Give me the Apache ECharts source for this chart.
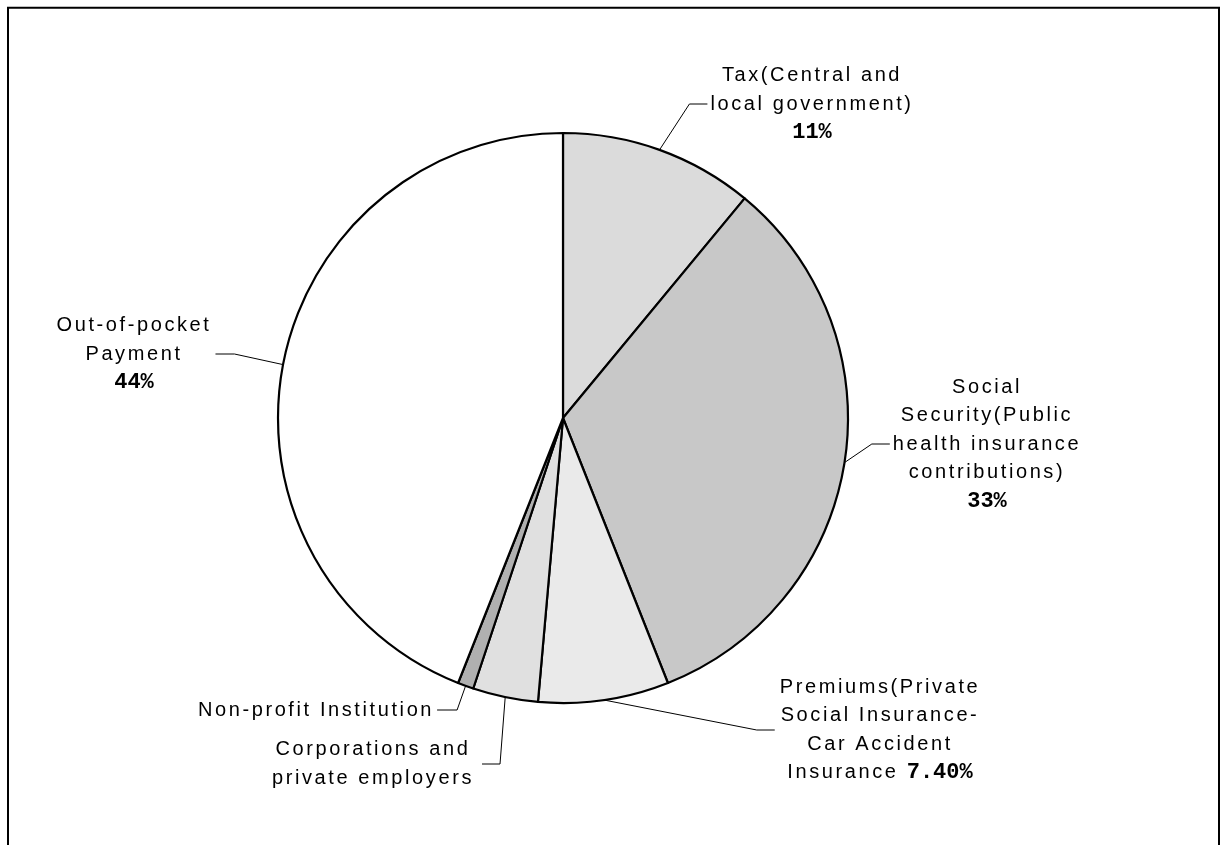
<!DOCTYPE html>
<html>
<head>
<meta charset="utf-8">
<script src="https://cdn.jsdelivr.net/npm/echarts@6/dist/echarts.min.js"></script>
<style>
  html, body { margin: 0; padding: 0; background: #ffffff; }
  #chart { width: 1220px; height: 845px; }
</style>
</head>
<body>
<div id="chart"></div>
<script>
// Sources of health financing, share of total (%)
const categories = [
  'Tax(Central and\nlocal government)',
  'Social\nSecurity(Public\nhealth insurance\ncontributions)',
  'Premiums(Private\nSocial Insurance-\nCar Accident\nInsurance',
  'Corporations and\nprivate employers',
  'Non-profit Institution',
  'Out-of-pocket\nPayment'
];
const shares = [11, 33, 7.4, 3.7, 0.9, 44];
// decimals used when the share is printed; null = share not printed
const shareDecimals = [0, 0, 2, null, null, 0];

// ---- styling / layout (kept apart from the data) ----
const sliceColors = ['#dbdbdb', '#c8c8c8', '#eaeaea', '#e0e0e0', '#b0b0b0', '#ffffff'];
const pctInline = [false, false, true, false, false, false];
// label block centres and the side the leader line attaches to
const labelSpots = [
  { cx: 812, cy: 104, side: 'right', gap: 3, len2: 18 },
  { cx: 987, cy: 444, side: 'right', gap: 3, len2: 18 },
  { cx: 880, cy: 730, side: 'right', gap: 5, len2: 18 },
  { cx: 373, cy: 764, side: 'left', gap: 8, len2: 18 },
  { cx: 316, cy: 710, side: 'left', gap: 3, len2: 20 },
  { cx: 134, cy: 354, side: 'left', gap: 4, len2: 19 }
];

// wide letter tracking for the regular label text; the bold percentages stay untracked
const TRACK = '2.6px';
['fillText', 'strokeText', 'measureText'].forEach(function (fn) {
  const orig = CanvasRenderingContext2D.prototype[fn];
  CanvasRenderingContext2D.prototype[fn] = function () {
    if ('letterSpacing' in this) {
      this.letterSpacing = /Liberation Sans/.test(this.font) ? TRACK : '0px';
    }
    return orig.apply(this, arguments);
  };
});

function labelText(i) {
  const lines = categories[i].split('\n').map(function (s) { return '{t|' + s + '}'; });
  const d = shareDecimals[i];
  if (d !== null) {
    const pct = '{p|' + shares[i].toFixed(d) + '%}';
    if (pctInline[i]) lines[lines.length - 1] += '{t| }' + pct;
    else lines.push(pct);
  }
  return lines.join('\n');
}

const chart = echarts.init(document.getElementById('chart'), null, { renderer: 'canvas' });

chart.setOption({
  backgroundColor: '#ffffff',
  animation: false,
  graphic: [{
    type: 'rect',
    silent: true,
    shape: { x: 8, y: 7.7, width: 1211, height: 900 },
    style: { fill: 'none', stroke: '#000000', lineWidth: 2 }
  }],
  series: [{
    type: 'pie',
    center: [563, 418],
    radius: [0, 285],
    startAngle: 90,
    clockwise: true,
    avoidLabelOverlap: false,
    minShowLabelAngle: 0,
    silent: true,
    itemStyle: { borderColor: '#000000', borderWidth: 2.2 },
    label: {
      show: true,
      position: 'outside',
      formatter: function (p) { return labelText(p.dataIndex); },
      rich: {
        t: { fontFamily: 'Liberation Sans', fontSize: 20, lineHeight: 28.5, color: '#000000' },
        p: { fontFamily: 'Liberation Mono', fontWeight: 'bold', fontSize: 22, lineHeight: 28.5, color: '#000000' }
      }
    },
    labelLine: { show: true, length: 15, length2: 15, lineStyle: { color: '#000000', width: 1 } },
    labelLayout: function (params) {
      const s = labelSpots[params.dataIndex];
      const w = params.labelRect.width;
      const out = { x: s.cx, y: s.cy, align: 'center', verticalAlign: 'middle' };
      const pts = params.labelLinePoints;
      if (pts && pts.length) {
        const endX = s.side === 'right' ? s.cx - w / 2 - s.gap : s.cx + w / 2 + s.gap;
        const elbowX = s.side === 'right' ? endX - s.len2 : endX + s.len2;
        out.labelLinePoints = [pts[0], [elbowX, s.cy], [endX, s.cy]];
      }
      return out;
    },
    data: categories.map(function (name, i) {
      return { name: name, value: shares[i], itemStyle: { color: sliceColors[i] } };
    })
  }]
});
</script>
</body>
</html>
